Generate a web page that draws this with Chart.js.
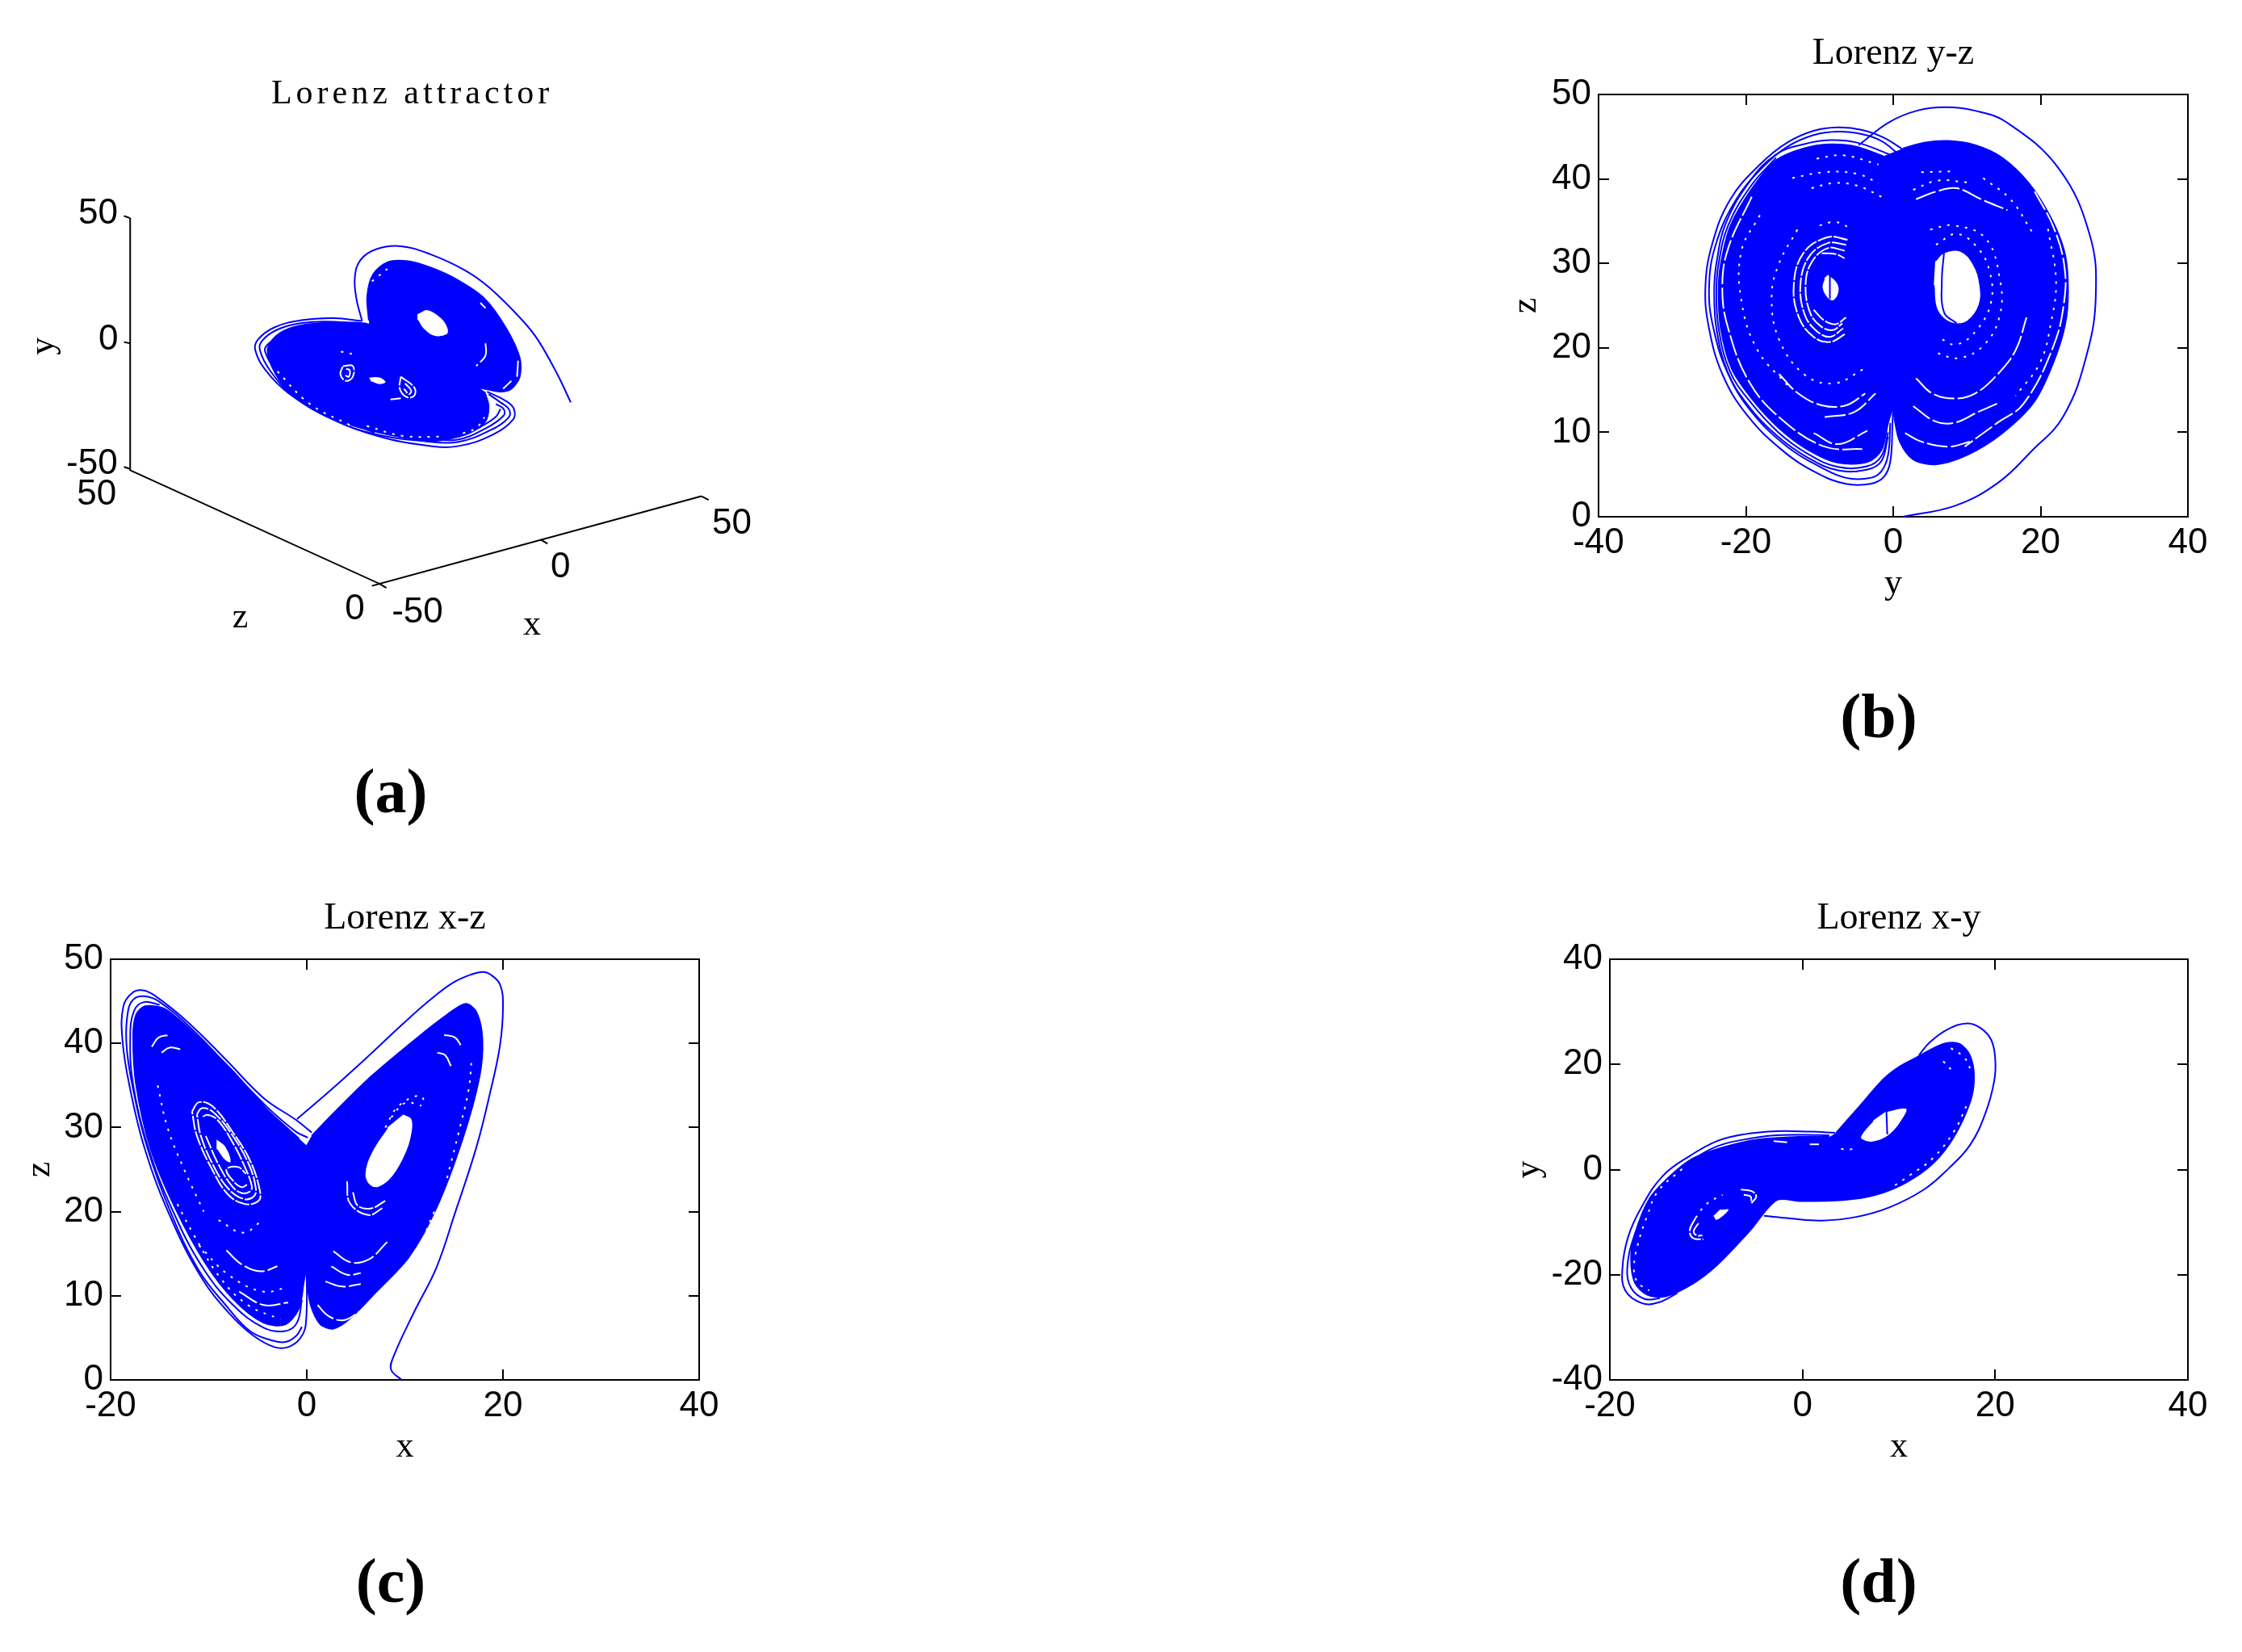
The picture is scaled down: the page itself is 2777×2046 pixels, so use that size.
<!DOCTYPE html>
<html>
<head>
<meta charset="utf-8">
<title>Lorenz attractor</title>
<script src="https://cdn.jsdelivr.net/npm/chart.js@4"></script>
<style>
	html, body { margin: 0; background: #fff; }
	body { position: relative; width: 2777px; height: 2046px; overflow: hidden; }
	canvas { position: absolute; }
	.letter { position: absolute; transform: translate(-50%, -50%); font: bold 78px "Liberation Serif", serif; color: #000; }
</style>
</head>
<body>
<script>
// panel (a): values are read in the flat plane of the 3D view
const aMasses = [
	[[71.4,88.6],[71.1,94.4],[72.2,99.6],[75,102.6],[78.7,102.9],[83.4,101.3],[88.6,98.3],[93.8,93.8],[98,86.6],[100.6,79.5],[100.6,74.9],[99,72],[96.9,71.3],[93.8,72],[80,75],[72,82]],
	[[93.8,71.3],[94.6,67.7],[93.8,63.8],[90.1,60.9],[83.4,59.3],[78.2,60.2],[71.9,61.9],[63.6,65.1],[56.8,70.3],[53.4,75.5],[51.8,81.4],[53.4,84.7],[56.8,86.9],[62.5,87.9],[71.4,87.6],[82,82]]
];
const aTail = [[110.5,68.7],[107.9,75.5],[104.2,83.7],[101.1,88.6],[94.8,96.4],[90.1,100.6],[83.4,104.5],[77.6,106.5],[72.9,105.8],[69.8,103.2],[68.7,99],[69,93.8],[70.1,88.4]];
const aRims = [
	[[70.1,88.4],[64.6,89.1],[58.4,88.6],[53.2,86.9],[50,84],[49.4,81.4],[51.6,76.2],[55.8,71],[63.6,65.1],[73,60.6],[82.3,58.3],[88.6,58.1],[95.4,60.9],[99.3,64.5],[99.5,67.1],[98,69],[94.3,71.3]],
	[[70.3,87.3],[64.6,88.2],[58.4,87.9],[53.7,86.3],[50.8,83.7],[50.3,81.4],[52.4,76.2],[56.8,70.3],[64.6,64.5],[73,60.9],[82.3,59.3],[88.6,59.1],[94.8,61.9],[98.5,65.1],[98.5,67.1],[96.9,68.7],[94.6,70.7]],
	[[54.7,85.3],[51.8,82.7],[51.3,81.1],[53.4,76.2],[57.2,70.7],[64.8,65],[72.5,61.4]],
	[[82.3,59.9],[88.6,59.7],[94,62.4],[97.5,65.5],[97.5,67.1],[96,68.3]],
	[[96.9,67.1],[95.9,65.1],[92.7,62.5]]
];
const aHoles = [
	[[80.8,90.2],[82.8,91.2],[85.5,89.2],[86.8,86.6],[86.5,85],[83.9,84.7],[81.8,86.6],[80.8,88.6]],
	[[71.4,74.9],[73.5,74.9],[74.8,73.6],[73.5,72.9],[71.9,73.6]]
];
const aRings = [
	[[66.4,77.5],[68.3,77.5],[68.3,74.9],[67,73.9],[65.9,75.5],[66.4,77.5]],
	[[67,76.8],[67.7,76.5],[67.5,74.9],[66.6,75.5]],
	[[77.6,74.9],[80.2,72.3],[80.2,70.3],[78.7,70],[77.4,72],[77.6,74.9]],
	[[78.4,73.3],[79.6,71.6],[79.2,70.7],[78.2,72]]
];
const aStreaks = [
	[[75.6,69.4],[77.6,69.7]],
	[[93,92.8],[94,91.5]],
	[[94,83],[94,80.1],[92.2,77.5]],
	[[100.3,78.8],[100.1,74.9]],
	[[99,73.9],[97.4,72]]
];
const aDots = [
	[[53.7,76.2],[59.9,68.4],[67.7,63.2]],
	[[89.6,61.2],[92.2,62.5],[93.8,65.1]],
	[[71,63],[78,60.6],[86,60.4]],
	[[66,81],[69,80.2]],
	[[72,98],[75,101]]
];
const aAxes = [
	[[25.2,113.3],[25.2,52.3],[73.5,24.8],[135.8,46]],
	[[25.2,113.3],[24,113.8]],
	[[25.2,83],[24,83.3]],
	[[25.2,52.6],[24,53.1]],
	[[73.5,24.8],[74.8,23.8]],
	[[73.5,24.8],[72,24.3]],
	[[104.7,35.5],[106,34.5]],
	[[135.8,46],[137.2,45.1]]
];
const aLabels = [
	['50',19,114.3],['0',21,83.8],['-50',17.8,53.8],['50',18.7,46.3],['0',68.7,18.5],
	['-50',80.8,17.8],['0',108.5,28.8],['50',141.7,39.3]
];
const aNames = [['y',8.5,82.3,-90],['z',46.5,16.5,0],['x',103,14.8,0]];
const aTitle = 'Lorenz attractor';

// panel (b): y-z plane
const bMasses = [
	[[-0.5,42.4],[-4.9,43.8],[-8.6,44.1],[-12.2,43.6],[-15.9,42.2],[-19.2,38.8],[-22.1,34.4],[-23.4,29.9],[-23.7,26.8],[-23.4,22.3],[-21.9,17.5],[-19.2,14],[-15.5,10.5],[-11.5,7.9],[-7.5,6.4],[-3.5,6.5],[-1.6,7.9],[-0.7,11.1],[-0.1,13],[1,20],[2,30],[1,42]],
	[[1.3,43.6],[4.2,44.3],[7.5,44.5],[11.1,44],[14.8,42.5],[18.4,39.5],[21.4,35.4],[23.2,31.5],[23.7,28],[23.5,23.6],[22.1,19.1],[19.2,13.7],[14.8,9.9],[10,7.3],[5.7,6.2],[2.7,6.8],[0.9,8.9],[0.2,11.5],[0,13.2],[-1,20],[-2,30],[-1,42.8]]
];
const bTail = [[1.3,0],[8.4,1.3],[14.2,4],[18.7,7.7],[23.1,11.9],[26.3,19.3],[27.5,26.3],[26.7,33.3],[22.5,41.2],[15.4,46.7],[11,48.1],[7.1,48.5],[3.3,48.1],[-0.6,46.7],[-4.7,44]];
const bRims = [
	[[1.3,43.5],[-1.3,44.9],[-4.2,45.8],[-7.5,46.1],[-10.8,45.7],[-14.4,44.3],[-18.1,41.7],[-22.1,37.6],[-24.6,32.2],[-25.5,27.1],[-25,22.3],[-23.2,16.9],[-19.9,12.1],[-15.1,7.9],[-10.4,5.2],[-6.4,3.9],[-3.1,3.9],[-1.3,4.7],[-0.4,6.5],[-0.1,11.1],[0,13.2]],
	[[0.5,43.1],[-1.6,44.5],[-4.2,45.3],[-7.5,45.6],[-10.8,45.2],[-14.4,43.8],[-17.7,41.4],[-21.3,37.6],[-24.1,32.2],[-25,27.1],[-24.4,22.3],[-22.4,16.9],[-19.2,12.4],[-14.4,8.3],[-9.7,5.8],[-6.4,4.6],[-3.1,4.6],[-1.6,5.4],[-0.7,7.3],[-0.4,11.1]],
	[[-0.5,42.9],[-4.9,44.3],[-8.6,44.6],[-12.2,44.1],[-15.9,42.9],[-19.4,39.8],[-22.7,34.8],[-24,30],[-24.3,26.8],[-24,22.3],[-22.5,17.2],[-19.9,13.4],[-15.8,9.6],[-11.6,7],[-7.5,5.5],[-3.5,5.6],[-1.6,6.6],[-0.7,9.5]],
	[[-15.9,42.5],[-19.3,39.2],[-22.4,34.5],[-23.7,30],[-24,26.8],[-23.7,22.3],[-22.2,17.3],[-19.5,13.7],[-15.6,10],[-11.5,7.4],[-7.5,5.9],[-3.5,6],[-1.6,7.2],[-0.7,10]]
];
const bHoles = [
	[[5.7,30.3],[6.9,31.3],[9.1,31.5],[10.9,29.9],[11.8,27.4],[11.7,25.1],[10.2,23.2],[8.6,22.8],[6.9,23.4],[5.8,24.8],[5.5,27.4]],
	[[-8.8,28.7],[-7.7,27.9],[-7.3,26.8],[-8,25.6],[-8.9,25.8],[-9.7,27.1],[-9.4,28.2]]
];
const bInner = [
	[[6.9,31.3],[6.6,28],[6.9,24.2],[8.6,22.9]],
	[[-8.6,28.5],[-8.6,25.8]]
];
const bRings = [
	[[-6.2,32.8],[-8.9,33.1],[-12.2,31.2],[-13.5,27.4],[-12.8,23.6],[-10.8,21.3],[-8.6,20.7],[-6.4,21.7]],
	[[-6.4,32.2],[-8.9,32.4],[-11.5,30.7],[-12.6,27.4],[-12,23.9],[-10.4,22],[-8.6,21.3],[-6.8,22.3]],
	[[-6.6,31.5],[-8.9,31.8],[-11.1,30.1],[-11.9,27.4],[-11.3,24.2],[-9.9,22.6],[-8.2,22.1],[-6.9,22.9]],
	[[-10.8,24.5],[-9.3,23.2],[-7.8,22.8],[-6.4,23.6]],
	[[-9.7,31.2],[-7.8,31.1],[-6.6,30.6]]
];
const bStreaks = [
	[[3.1,16.4],[5.3,14.6],[8.2,14],[11.1,14.6],[14.1,16.8],[16.6,19.7],[18.1,23.6]],
	[[2.7,13.1],[5.7,11.3],[8.2,11.1],[11.5,12.4],[14.1,13.4]],
	[[1.6,9.9],[3.8,8.9],[7.5,8.3],[10.4,8.9]],
	[[3.1,37.6],[5.8,38.5],[8.6,38.9],[11.9,37.6],[15.5,36.3]],
	[[-15.5,16.9],[-12.9,14.6],[-9.7,13.2],[-6.4,13.2],[-3.8,14.6]],
	[[-9.3,11.8],[-5.3,12.4],[-2.4,14.6]],
	[[-10.8,9.9],[-7.5,8.6],[-3.5,10.2]],
	[[-19.2,37.9],[-22.4,31.8],[-23.2,27.1],[-22.4,22.3],[-19.5,15.9],[-15.1,11.5],[-9.3,8.3],[-4.2,8]],
	[[19.2,38.5],[21.7,34.4],[23.2,29.9],[23.2,25.5],[21.7,20.1],[17.7,13.4],[14.1,11.1],[9.7,8.3]]
];
const bDots = [
	[[2.7,38.7],[6,39.8],[10,39.6]],
	[[3.8,40.8],[8.2,40.9]],
	[[12.2,40.1],[15.9,37.6],[18.8,33.8]],
	[[21,34.1],[22.1,28],[21.4,22.9],[19.9,18.2],[16.6,14.3]],
	[[5.8,32.2],[8.6,33.5],[11.5,31.8],[13.1,29],[13.3,25.5],[11.5,22.3],[8.6,20.4],[6,21.3]],
	[[5,34],[8,34.5],[12.5,33],[14.5,28],[14.5,24],[12.5,20.5],[9,18.8],[5.5,19.5]],
	[[-11.1,38.9],[-8.2,39.5],[-4.9,39.2],[-1.6,37.9]],
	[[-13.7,40.1],[-9.3,40.8],[-4.9,40.6],[-2,39.5]],
	[[-10.4,42.4],[-6.8,42.8],[-2,41.7]],
	[[-18.1,35.7],[-20.6,31.5],[-20.6,25.5],[-18.4,19.7],[-14.4,15.6]],
	[[-13,34],[-15.5,30],[-16.5,26],[-15.5,21],[-12,16.8],[-8,15.8],[-4,17.5]],
	[[-10,34.5],[-7.8,34.9],[-5.5,34]]
];

// panel (c): x-z plane
const cMasses = [
	[[-0.8,28.7],[-4.1,32.2],[-7.7,36.9],[-11.5,41.2],[-14.5,44.1],[-16.5,44.4],[-17.4,43.4],[-17.7,40.8],[-17.4,35.1],[-15.9,27.4],[-13.4,20.4],[-10.4,14],[-7.4,9.5],[-4.4,6.8],[-2.2,6.6],[-0.8,8.5],[-0.3,11.7],[0,13.5],[1,20],[0.8,27]],
	[[0.5,29],[3,32],[6.6,36.1],[11.3,40.7],[14.3,43.4],[16.2,44.7],[17.3,43.7],[17.9,40.5],[17.6,36],[15.9,28.7],[13.2,20.4],[10.4,14.6],[7.1,10.5],[4.4,7.3],[2.7,6.1],[1.4,6.6],[0.4,8.9],[0.05,11.7],[0,13.5],[-1,20],[-0.5,27]]
];
const cTail = [[9.67,0],[8.6,1.2],[8.85,2.8],[11,8.2],[13.2,13.3],[15.1,19.8],[17.3,27.7],[18.7,34.2],[19.7,39.8],[20,44.4],[19.7,47],[18.7,48.2],[18,48.5],[16.8,48.2],[14.9,47.2],[12.5,45.1],[9.6,42.1],[6.2,38.4],[2.4,34.4],[-1,31]];
const cRims = [
	[[0,13.5],[-0.1,6.6],[-0.7,4.9],[-1.9,3.9],[-3.3,3.9],[-5.5,5.3],[-7.9,7.9],[-10.7,12.1],[-13.8,19.1],[-16.5,27.4],[-18.1,35.1],[-18.8,40.5],[-18.7,44.4],[-17.8,46],[-16.7,46.3],[-15.4,45.6],[-12.1,42.5],[-8.2,38],[-4.4,33.5],[-1.1,30.9],[0.5,29.4]],
	[[-0.5,6.3],[-1.1,5.2],[-2.2,4.5],[-3.6,4.7],[-5.8,5.8],[-8.2,8.8],[-11,13],[-13.8,19.7],[-16.2,27.4],[-17.8,35.1],[-18.4,40.2],[-18.2,44],[-17.6,45.3],[-16.6,45.6],[-15.1,45],[-11.8,41.8],[-8,37.2],[-4.1,32.5],[-1.1,29.5],[0.1,28.8]],
	[[-15,44.6],[-16.6,44.9],[-17.6,43.9],[-18,40.8],[-17.7,35.1],[-16.1,27.4],[-13.7,20.2],[-10.7,13.5],[-7.6,9],[-4.4,6.2],[-2.2,5.8],[-1,6.8],[-0.5,9.5]]
];
const cHoles = [
	[[9.9,31.6],[10.7,31.1],[10.8,29.7],[10.2,27.1],[8.8,24.2],[7.4,22.9],[6.4,23.1],[5.9,24.5],[6.6,27.1],[8.2,30]],
	[[-9.2,28.7],[-8.2,27.7],[-7.7,25.8],[-8.4,26.1],[-9.2,27.4]]
];
const cRings = [
	[[-11.7,31.9],[-11,33],[-9.6,32.5],[-7.7,29.7],[-5.8,26.1],[-4.8,22.6],[-4.9,21.3],[-6.3,20.9],[-8,22],[-9.6,24.9],[-11.2,29],[-11.7,31.9]],
	[[-11.2,31.6],[-10.7,32.3],[-9.5,31.8],[-7.6,29.1],[-5.9,25.6],[-5.2,22.8],[-5.4,21.8],[-6.4,21.5],[-7.9,22.6],[-9.4,25.2],[-10.8,29],[-11.2,31.6]],
	[[-10.6,31.3],[-10.1,31.5],[-9.1,30.9],[-7.5,28.1],[-6.2,25],[-5.6,23],[-5.8,22.4],[-6.6,22.2],[-7.6,23],[-9,25.6],[-10.3,29]],
	[[-6.1,23.2],[-6.6,22.9],[-7.3,23.4],[-8.2,25],[-7,25.3],[-6.2,24.5]],
	[[4.1,23.6],[4.4,21],[6.3,19.6],[7.7,20.4]],
	[[4.7,22.3],[5.2,20.7],[6.6,20.4],[8,21.3]]
];
const cStreaks = [
	[[-8.2,15.4],[-6.6,13.7],[-4.7,12.9],[-3,13.5]],
	[[2.7,15.3],[4.4,14],[6.3,14.3],[8.2,16.4]],
	[[2.5,13.5],[4.1,12.5],[5.5,12.7]],
	[[1.9,11.7],[3.6,11.1],[5.5,11.4]],
	[[-14.8,38.9],[-14,39.5],[-12.9,39.3]],
	[[-15.8,39.6],[-15.1,40.7],[-14,41]],
	[[13.3,38.9],[14.1,38.6],[14.7,37.3]],
	[[14,41],[15.1,40.7],[15.8,39.6]],
	[[-6.9,10.5],[-4.4,8.9],[-1.9,9.2]],
	[[1.1,8.9],[2.2,7.6],[3.8,7.1],[5.5,8.2]]
];
const cDots = [
	[[-13.2,20.9],[-11.5,17.2],[-8.8,12.1],[-6,8.9],[-2.7,7.2]],
	[[-11,16],[-8,12.5],[-4.5,10.5],[-2,11]],
	[[8,30],[9.3,32.5],[11.5,33.8],[12.1,32.9]],
	[[8.6,31.2],[10,32.9],[11.7,32.6]],
	[[-9,19],[-6.5,17.5],[-4.5,19]],
	[[-15.2,35],[-14.2,30],[-12.5,25],[-10.5,20]],
	[[14.3,24],[15.5,29.5],[16.5,34.5],[16.8,38]],
	[[8,11],[11,15],[13,20]]
];

// panel (d): x-y plane
const dMasses = [
	[[3.5,7],[6,12.2],[8.4,17.2],[10,19.5],[11.8,21.3],[14.6,23.9],[16.3,23.9],[17.4,21.6],[17.8,17.5],[17.4,12.9],[15.7,6.2],[13.5,1.1],[10.7,-2.5],[7.6,-4.8],[4.2,-5.8],[-0.2,-6],[-2.7,-5.8],[-5.5,-11.7],[-8.9,-18.2],[-11.4,-21.7],[-14.2,-24.1],[-16.1,-23.8],[-17.4,-21.5],[-17.8,-16.9],[-17.4,-12.3],[-15.9,-5.6],[-13.6,-1],[-11.4,2.1],[-8.3,4.2],[-4.7,5.7],[-0.5,6.2],[2.8,6.2]]
];
const dTail = [[-4,-8.8],[-1.3,-9.3],[2,-9.7],[5.6,-9],[9,-7.2],[12.6,-3.8],[15.1,0.1],[17.4,4.7],[19,10.8],[19.9,16.9],[20,21],[19.6,24.6],[18.5,26.9],[17.1,27.8],[15.1,26.7],[13.2,24.2],[12.1,21.8]];
const dRims = [
	[[3.4,7],[0.9,7.2],[-2.7,7.3],[-6.1,6.7],[-8.9,5.4],[-11.7,2.6],[-14.5,-1.2],[-16.7,-7.1],[-18.1,-12.8],[-18.7,-18.9],[-18.4,-23],[-16.7,-25.4],[-15,-25.3],[-13,-23.5]],
	[[2.8,6.5],[0.1,6.6],[-3,6.5],[-6.1,5.7],[-8.9,4.4],[-11.4,1.8],[-14.2,-2.3],[-16.1,-7.6],[-17.5,-12.8],[-18.2,-18.9],[-17.8,-22.5],[-16.4,-24.6],[-14.8,-24.5]]
];
const dHoles = [
	[[8.7,11.1],[10.8,11.7],[10.5,9.8],[9,6.5],[7.3,5.2],[6.1,5.7],[6.1,6.7],[7.3,9.3]],
	[[-8.5,-7.5],[-7.6,-7.5],[-8.2,-8.9],[-9,-9.7],[-9.3,-8.9]]
];
const dInner = [[[8.7,11.2],[8.8,6.7]]];
const dRings = [
	[[-6.4,-3.8],[-5.3,-4.1],[-4.8,-5.1],[-5.3,-6.4]],
	[[-6.1,-4.8],[-5.4,-5.1],[-5.3,-6]],
	[[-11.1,-9.2],[-11.7,-11.5],[-11.4,-13],[-10.3,-13.3]],
	[[-10.8,-10.2],[-11.3,-11.7],[-11,-12.5],[-10.4,-12.5]]
];
const dStreaks = [
	[[-3,5.4],[-1.6,5.2]],
	[[0.75,4.8],[1.7,4.8]]
];
const dDots = [
	[[-11.1,-9.2],[-10,-6.6],[-8.3,-4.8]],
	[[9.6,-3],[11.2,-1],[13.5,2.1],[15.7,7.2],[17.1,12.4]],
	[[14.6,20.6],[15.7,18.5]],
	[[15.4,23.1],[16.8,21.3],[17.5,18.8]],
	[[4,3.9],[5.1,3.9],[5.6,4.9]],
	[[-12.5,0.1],[-15,-4.1],[-16.1,-8.7],[-17.1,-14.3],[-17.5,-18.9],[-17.1,-21.5],[-15.9,-23]]
];

// tick labels of the flat panels
const xTicksWide = [-40, -20, 0, 20, 40];
const xTicksRight = [-20, 0, 20, 40];
const zTicks = [0, 10, 20, 30, 40, 50];
const yTicks = [-40, -20, 0, 20, 40];

const letters = [['(a)', 484, 980], ['(b)', 2327, 887], ['(c)', 484, 1958], ['(d)', 2327, 1958]];

const BLUE = '#0000ff';
const WHITE = '#ffffff';

function pts(list){
	return list.map(function(p){ return {x: p[0], y: p[1]}; });
}

function filled(list, color, tension){
	return {data: pts(list), borderColor: BLUE, backgroundColor: color, borderWidth: 2, fill: 'shape', pointRadius: 0, tension: tension};
}
function curve(list, color, width, dash){
	return {data: pts(list), borderColor: color, borderWidth: width, borderDash: dash || [], fill: false, pointRadius: 0, tension: 0.4};
}

// first in the list is painted first
function layered(list){
	list.forEach(function(d, i){ d.order = -i; });
	return list;
}

function markSets(set){
	let list = [curve(set.tail, BLUE, 2)];
	set.rims.forEach(function(r){ list.push(curve(r, BLUE, 2)); });
	set.masses.forEach(function(m){ list.push(filled(m, BLUE, 0.3)); });
	set.holes.forEach(function(h){ list.push(filled(h, WHITE, 0.4)); });
	set.rings.forEach(function(r){ list.push(curve(r, WHITE, 2, [18, 2])); });
	set.streaks.forEach(function(s){ list.push(curve(s, WHITE, 2, [26, 4])); });
	set.dots.forEach(function(s){ list.push(curve(s, WHITE, 2, [3, 8])); });
	(set.inner || []).forEach(function(s){ list.push(curve(s, BLUE, 2)); });
	return list;
}

function flatScale(ticks, title, titlePad, position){
	const isX = position === 'bottom';
	return {
		type: 'linear',
		position: position,
		min: ticks[0],
		max: ticks[ticks.length - 1],
		border: {color: '#000', width: 2},
		grid: {drawOnChartArea: false, color: '#000', lineWidth: 2, tickLength: -13},
		afterBuildTicks: function(scale){ scale.ticks = ticks.map(function(v){ return {value: v}; }); },
		afterFit: function(scale){
			if (isX) scale.height = 150; else scale.width = 127;
		},
		ticks: {
			display: true,
			autoSkip: false,
			maxRotation: 0,
			padding: isX ? 24 : 22,
			color: '#000',
			font: {family: '"Liberation Sans"', size: 44, lineHeight: 1}
		},
		title: {
			display: true,
			text: title,
			color: '#000',
			font: {family: '"Liberation Serif"', size: 44, lineHeight: 1},
			padding: isX ? {top: 0, bottom: 45} : {top: titlePad, bottom: 0}
		}
	};
}

// top and right edge only carry tick marks
function edgeScale(ticks, position){
	const isX = position === 'top';
	return {
		type: 'linear',
		position: position,
		min: ticks[0],
		max: ticks[ticks.length - 1],
		border: {color: '#000', width: 2},
		grid: {drawOnChartArea: false, color: '#000', lineWidth: 2, tickLength: -13},
		afterBuildTicks: function(scale){ scale.ticks = ticks.map(function(v){ return {value: v}; }); },
		afterFit: function(scale){
			if (isX) scale.height = 0; else scale.width = 0;
		},
		ticks: {display: false}
	};
}

function flatPanel(box, title, xTicks, yList, xName, yName, yPad, datasets){
	const canvas = document.createElement('canvas');
	canvas.width = box.right - box.left + 127 + 60;
	canvas.height = box.bottom - box.top + 87 + 150;
	canvas.style.left = (box.left - 127) + 'px';
	canvas.style.top = (box.top - 87) + 'px';
	document.body.appendChild(canvas);

	new Chart(canvas, {
		type: 'line',
		data: {datasets: layered(datasets)},
		options: {
			responsive: false,
			animation: false,
			devicePixelRatio: 1,
			events: [],
			layout: {padding: {left: 0, top: 0, right: 60, bottom: 0}},
			plugins: {
				legend: {display: false},
				tooltip: {enabled: false},
				title: {
					display: true,
					text: title,
					fullSize: false,
					color: '#000',
					font: {family: '"Liberation Serif"', size: 46, weight: 'normal', lineHeight: 1},
					padding: {top: 14, bottom: 27}
				}
			},
			scales: {
				x: flatScale(xTicks, xName, 0, 'bottom'),
				y: flatScale(yList, yName, yPad, 'left'),
				x2: edgeScale(xTicks, 'top'),
				y2: edgeScale(yList, 'right')
			}
		}
	});
}

const viewText = {
	id: 'viewText',
	afterDatasetsDraw: function(chart){
		const ctx = chart.ctx;
		const sx = chart.scales.x;
		const sy = chart.scales.y;
		ctx.save();
		ctx.fillStyle = '#000';
		ctx.textAlign = 'center';
		ctx.textBaseline = 'middle';
		ctx.font = '44px "Liberation Sans"';
		aLabels.forEach(function(l){
			ctx.fillText(l[0], sx.getPixelForValue(l[1]), sy.getPixelForValue(l[2]));
		});
		ctx.font = '44px "Liberation Serif"';
		aNames.forEach(function(l){
			ctx.save();
			ctx.translate(sx.getPixelForValue(l[1]), sy.getPixelForValue(l[2]));
			ctx.rotate(l[3] * Math.PI / 180);
			ctx.fillText(l[0], 0, 0);
			ctx.restore();
		});
		ctx.font = '42px "Liberation Serif"';
		ctx.letterSpacing = '5px';
		ctx.fillText(aTitle, sx.getPixelForValue(79.8), sy.getPixelForValue(143.2));
		ctx.restore();
	}
};

function createViewPanel(){
	const canvas = document.createElement('canvas');
	canvas.width = 1000;
	canvas.height = 800;
	canvas.style.left = '0px';
	canvas.style.top = '50px';
	document.body.appendChild(canvas);

	const list = markSets({tail: aTail, rims: aRims, masses: aMasses, holes: aHoles, rings: aRings, streaks: aStreaks, dots: aDots});
	aAxes.forEach(function(a){
		const d = curve(a, '#000', 2);
		d.tension = 0;
		list.push(d);
	});

	new Chart(canvas, {
		type: 'line',
		data: {datasets: layered(list)},
		options: {
			responsive: false,
			animation: false,
			devicePixelRatio: 1,
			events: [],
			layout: {padding: 0},
			plugins: {legend: {display: false}, tooltip: {enabled: false}},
			scales: {
				x: {type: 'linear', display: false, min: 0, max: 156.3},
				y: {type: 'linear', display: false, min: 0, max: 156.3}
			}
		},
		plugins: [viewText]
	});
}

function createPage(){
	createViewPanel();
	flatPanel({left: 1980, right: 2710, top: 117, bottom: 640}, 'Lorenz y-z', xTicksWide, zTicks, 'y', 'z', 15,
		markSets({tail: bTail, rims: bRims, masses: bMasses, holes: bHoles, rings: bRings, streaks: bStreaks, dots: bDots, inner: bInner}));
	flatPanel({left: 137, right: 866, top: 1188, bottom: 1709}, 'Lorenz x-z', xTicksRight, zTicks, 'x', 'z', 17,
		markSets({tail: cTail, rims: cRims, masses: cMasses, holes: cHoles, rings: cRings, streaks: cStreaks, dots: cDots}));
	flatPanel({left: 1994, right: 2710, top: 1188, bottom: 1709}, 'Lorenz x-y', xTicksRight, yTicks, 'x', 'y', 5,
		markSets({tail: dTail, rims: dRims, masses: dMasses, holes: dHoles, rings: dRings, streaks: dStreaks, dots: dDots, inner: dInner}));

	letters.forEach(function(l){
		const el = document.createElement('div');
		el.className = 'letter';
		el.textContent = l[0];
		el.style.left = l[1] + 'px';
		el.style.top = l[2] + 'px';
		document.body.appendChild(el);
	});
}

document.addEventListener("DOMContentLoaded", createPage);
</script>
</body>
</html>
